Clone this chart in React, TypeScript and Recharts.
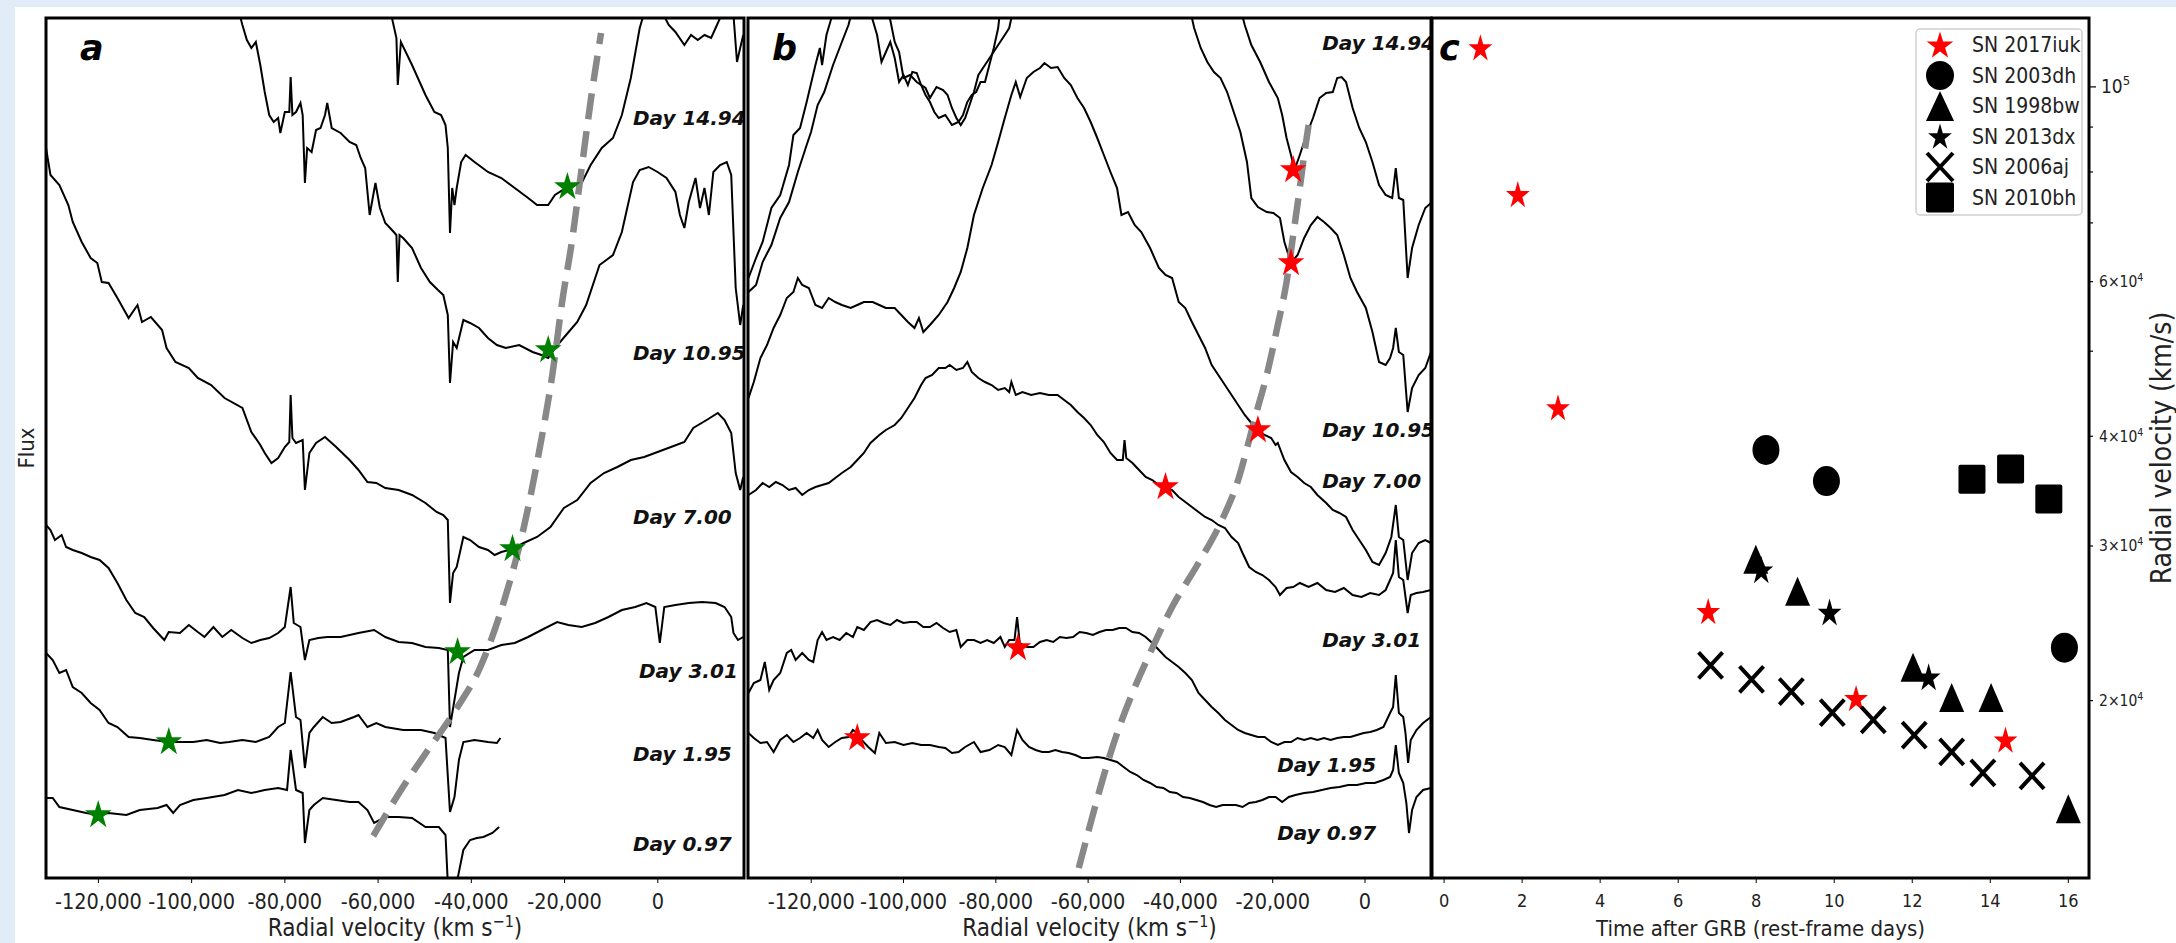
import React from 'react';
import { ComposedChart, Line, Scatter, XAxis, YAxis } from 'recharts';

type Pt = [number, number];

// ---------- panel a: spectra, [radial velocity km/s, offset flux] ----------
const aDay1494: Pt[] = [
  [-57510, 870], [-56070, 840], [-55780, 793], [-55110, 836], [-52720, 813], [-49840, 783], [-47930, 766],
  [-46490, 763], [-45540, 753], [-45050, 730], [-44580, 645], [-44100, 690], [-43620, 673], [-43140, 690],
  [-42180, 716], [-41230, 723], [-39310, 716], [-36440, 706], [-33560, 700], [-30690, 690], [-27820, 680],
  [-25900, 673], [-23510, 673], [-22070, 683], [-19680, 690], [-16330, 695], [-14410, 713], [-12020, 730],
  [-9620, 740], [-7710, 763], [-5790, 800], [-3880, 850], [-2440, 873], [-810, 883], [910, 866], [2340, 853],
  [3780, 846], [5700, 833], [7130, 843], [8570, 838], [10010, 843], [11440, 840], [12400, 850], [13360, 860],
  [14790, 870], [16230, 863], [16990, 816], [17670, 830], [18330, 843],
];
const aDay1095: Pt[] = [
  [-90060, 870], [-89110, 853], [-88150, 838], [-87190, 830], [-86230, 836], [-85270, 813], [-84320, 786],
  [-83360, 763], [-82400, 756], [-81440, 760], [-80970, 745], [-80010, 766], [-79050, 766], [-78760, 801],
  [-78380, 763], [-77610, 766], [-76650, 775], [-76180, 763], [-75700, 695], [-75220, 730], [-74260, 726],
  [-73310, 748], [-72350, 750], [-71390, 763], [-70910, 775], [-69950, 750], [-68040, 745], [-66120, 736],
  [-64690, 733], [-63730, 720], [-62770, 710], [-61810, 663], [-60570, 695], [-59610, 670], [-58460, 655],
  [-57030, 648], [-56070, 643], [-55780, 596], [-55400, 643], [-54630, 640], [-52720, 630], [-50800, 610],
  [-48890, 596], [-47160, 588], [-46010, 583], [-45050, 563], [-44580, 495], [-43910, 536], [-43140, 530],
  [-41710, 558], [-40270, 555], [-38350, 550], [-36440, 540], [-34520, 533], [-32610, 530], [-29730, 533],
  [-26860, 526], [-24950, 523], [-23510, 520], [-22070, 530], [-19680, 543], [-17280, 556], [-15370, 573],
  [-12500, 613], [-9620, 623], [-7710, 646], [-6750, 666], [-5310, 696], [-3880, 708], [-1960, 711], [-50, 706],
  [1860, 700], [3780, 686], [4740, 663], [5700, 650], [6650, 676], [8090, 700], [9050, 670], [10010, 690],
  [10960, 663], [11920, 706], [13360, 713], [14790, 716], [15750, 703], [16710, 590], [17670, 553], [18330, 573],
];
const aDay700: Pt[] = [
  [-131240, 730], [-130280, 703], [-128370, 693], [-126450, 673], [-125500, 656], [-123580, 636], [-121660, 620],
  [-120230, 615], [-119270, 596], [-117830, 595], [-115920, 580], [-113520, 560], [-111610, 573], [-110650, 556],
  [-108740, 561], [-106340, 548], [-105380, 530], [-103470, 516], [-100600, 510], [-98680, 500], [-95810, 493],
  [-92940, 480], [-89110, 470], [-87190, 446], [-85270, 433], [-84320, 425], [-82880, 415], [-81440, 420],
  [-80010, 431], [-79050, 436], [-78760, 483], [-78380, 440], [-77610, 435], [-76180, 438], [-75700, 388],
  [-74740, 425], [-73310, 435], [-71390, 441], [-69000, 431], [-66120, 418], [-64210, 408], [-62290, 396],
  [-60380, 395], [-58460, 390], [-55590, 388], [-52720, 383], [-49840, 375], [-47450, 366], [-46010, 363],
  [-45050, 358], [-44580, 275], [-43910, 305], [-43140, 311], [-41710, 341], [-40270, 338], [-38350, 331],
  [-36440, 328], [-35000, 323], [-33560, 326], [-31170, 329], [-28780, 335], [-25900, 341], [-23030, 351],
  [-20150, 370], [-17280, 378], [-14410, 395], [-11540, 405], [-8670, 411], [-5790, 418], [-2920, 421],
  [-50, 426], [2820, 431], [5700, 436], [7610, 450], [10480, 458], [12880, 465], [14320, 458], [15750, 445],
  [16710, 405], [17670, 388], [18330, 401],
];
const aDay301: Pt[] = [
  [-131240, 353], [-130280, 348], [-129320, 338], [-127890, 343], [-126930, 331], [-125500, 328], [-123580, 325],
  [-121660, 321], [-119750, 318], [-117830, 310], [-115920, 295], [-114000, 278], [-112090, 265], [-110170, 261],
  [-108260, 250], [-105860, 238], [-104910, 246], [-102510, 245], [-100600, 253], [-98680, 246], [-97240, 241],
  [-95330, 251], [-93420, 241], [-91500, 248], [-89110, 240], [-87190, 235], [-85270, 238], [-83360, 240],
  [-81440, 245], [-80010, 251], [-78760, 291], [-78090, 255], [-76650, 251], [-75700, 218], [-74740, 238],
  [-72830, 240], [-70910, 241], [-68040, 241], [-64210, 245], [-60860, 248], [-58460, 241], [-55590, 236],
  [-52720, 235], [-49840, 231], [-46970, 230], [-45050, 228], [-44580, 151], [-43620, 178], [-42660, 205],
  [-41710, 221], [-39310, 228], [-36440, 228], [-33560, 233], [-30690, 235], [-27820, 241], [-24950, 248],
  [-21590, 256], [-19200, 253], [-16330, 251], [-13450, 255], [-10580, 261], [-7710, 268], [-4840, 271],
  [-2440, 275], [-530, 271], [430, 235], [1390, 271], [3780, 273], [6650, 275], [9530, 276], [12400, 275],
  [14320, 271], [15750, 261], [16230, 245], [17190, 238], [18330, 241],
];
const aDay195: Pt[] = [
  [-131240, 225], [-129800, 218], [-128370, 205], [-126930, 208], [-125500, 191], [-123580, 185], [-121660, 175],
  [-119750, 168], [-117830, 155], [-115920, 151], [-113520, 141], [-111130, 140], [-108260, 138], [-104910, 136],
  [-102510, 136], [-99640, 136], [-96770, 138], [-93890, 135], [-91980, 136], [-89110, 138], [-86230, 136],
  [-83360, 141], [-81440, 151], [-80010, 155], [-78760, 206], [-77610, 161], [-76650, 158], [-75700, 110],
  [-74740, 145], [-73780, 151], [-71870, 161], [-69950, 155], [-68040, 156], [-65170, 161], [-64210, 163],
  [-62290, 151], [-60380, 155], [-58460, 151], [-54630, 148], [-50800, 148], [-47930, 145], [-45540, 140],
  [-44580, 66], [-43620, 81], [-42660, 118], [-41710, 136], [-39310, 138], [-36440, 136], [-34520, 135],
  [-33760, 140],
];
const aDay097: Pt[] = [
  [-131240, 80], [-129800, 80], [-128370, 71], [-125500, 68], [-122620, 65], [-120040, 63], [-117830, 65],
  [-114000, 63], [-111130, 68], [-107300, 70], [-105380, 73], [-103950, 65], [-102510, 73], [-99640, 78],
  [-96770, 80], [-92940, 83], [-90060, 88], [-87190, 85], [-84320, 88], [-81440, 90], [-79530, 88],
  [-78760, 128], [-77610, 88], [-76180, 85], [-75700, 35], [-74740, 68], [-73780, 73], [-71870, 80],
  [-69000, 78], [-66120, 76], [-64210, 76], [-62290, 68], [-60860, 55], [-58460, 61], [-55590, 61],
  [-52720, 60], [-49840, 51], [-46970, 51], [-45540, 43], [-45050, -5], [-43140, -5], [-41710, 28],
  [-40270, 38], [-38830, 40], [-37400, 41], [-35480, 45], [-34040, 51],
];
const aTrack: Pt[] = [
  [-61050, 42], [-54810, 90], [-49600, 126], [-43380, 168], [-38170, 210], [-32980, 277], [-28820, 349],
  [-25680, 421], [-22570, 505], [-20490, 577], [-18410, 637], [-16330, 710], [-14250, 782], [-12170, 845],
];
const aMinima: Pt[] = [[-19390, 691], [-23510, 528], [-31170, 329], [-42950, 226], [-104900, 136], [-120040, 63]];
const aLabelAt: Pt[] = [[-5330, 760], [-5330, 525], [-5330, 361], [-4040, 207], [-5330, 124], [-5330, 34]];

// ---------- panel b ----------
const bDay1494: Pt[] = [
  [-133590, 600], [-131960, 620], [-130530, 636], [-128630, 670], [-126720, 683], [-124810, 713], [-123860, 743],
  [-122420, 750], [-120990, 776], [-119090, 813], [-118130, 830], [-117650, 813], [-116700, 843], [-115750, 858],
  [-114790, 870], [-110500, 900], [-106680, 858], [-105730, 843], [-104770, 816], [-103820, 826], [-102870, 836],
  [-101910, 820], [-100960, 796], [-100000, 803], [-99050, 793], [-98090, 806], [-97140, 805], [-96190, 793],
  [-95230, 783], [-94280, 776], [-93330, 766], [-92370, 760], [-90940, 763], [-89510, 753], [-88080, 756],
  [-87120, 763], [-86170, 776], [-85210, 783], [-84260, 786], [-83310, 796], [-82350, 796], [-81400, 813],
  [-80440, 830], [-79490, 850], [-79010, 870], [-53000, 950], [-27010, 870], [-26060, 853], [-24630, 833],
  [-22720, 816], [-20810, 796], [-18900, 780], [-17950, 763], [-17000, 740], [-16040, 723], [-15280, 708],
  [-14130, 723], [-12700, 743], [-11270, 760], [-9840, 780], [-8410, 785], [-6980, 786], [-6020, 800],
  [-5070, 801], [-4110, 796], [-2680, 770], [-1250, 750], [180, 736], [1610, 716], [3040, 693], [4470, 683],
  [5900, 680], [6670, 710], [7340, 680], [8290, 678], [9240, 600], [10200, 630], [11630, 653], [13060, 670],
  [14300, 675],
];
const bDay1095: Pt[] = [
  [-133590, 586], [-131960, 593], [-130530, 616], [-128630, 633], [-126720, 660], [-124810, 676], [-122900, 706],
  [-120990, 733], [-120040, 746], [-118610, 773], [-117180, 786], [-115270, 813], [-113360, 836], [-111930, 853],
  [-110970, 870], [-106680, 900], [-102870, 858], [-101910, 836], [-100960, 826], [-100000, 800], [-98570, 803],
  [-97140, 796], [-95230, 790], [-94280, 780], [-92850, 791], [-91420, 788], [-90460, 783], [-89510, 770],
  [-88550, 760], [-87600, 753], [-86650, 760], [-85690, 773], [-84740, 786], [-83780, 803], [-82350, 813],
  [-80920, 823], [-79490, 833], [-78060, 843], [-77100, 850], [-76150, 870], [-58000, 950], [-37990, 870],
  [-37030, 850], [-35600, 830], [-34170, 816], [-32740, 806], [-31310, 800], [-29880, 786], [-28450, 766],
  [-27010, 746], [-25580, 716], [-24630, 680], [-23200, 671], [-21290, 666], [-19860, 665], [-18430, 660],
  [-17470, 636], [-16040, 615], [-14610, 623], [-13180, 640], [-11740, 653], [-10320, 661], [-8880, 656],
  [-7450, 650], [-6020, 643], [-4590, 623], [-3160, 600], [-1730, 586], [180, 570], [1610, 546], [3040, 516],
  [4470, 513], [5430, 520], [6090, 530], [6670, 550], [7340, 526], [8290, 523], [9240, 466], [10200, 490],
  [11630, 503], [13060, 510], [14300, 526],
];
const bDay700: Pt[] = [
  [-133590, 480], [-132440, 496], [-131010, 520], [-129580, 533], [-128150, 550], [-126720, 563], [-125290, 580],
  [-123860, 586], [-122900, 600], [-121950, 593], [-120520, 590], [-119090, 573], [-117650, 570], [-116220, 580],
  [-114790, 576], [-113360, 573], [-111450, 570], [-110020, 573], [-108590, 576], [-106680, 576], [-105250, 573],
  [-103820, 570], [-101910, 570], [-100480, 563], [-99050, 556], [-97620, 550], [-96660, 560], [-95710, 546],
  [-94280, 553], [-92370, 563], [-90460, 576], [-89030, 590], [-87600, 606], [-86170, 630], [-84740, 663],
  [-82830, 690], [-80920, 713], [-79490, 736], [-78060, 760], [-76630, 783], [-75680, 796], [-74720, 781],
  [-73290, 800], [-71860, 806], [-70430, 810], [-69470, 815], [-68040, 810], [-66610, 811], [-65180, 800],
  [-63750, 793], [-62320, 780], [-60880, 770], [-59450, 756], [-58020, 740], [-56590, 723], [-55160, 706],
  [-53730, 690], [-52780, 663], [-51350, 666], [-49920, 653], [-48480, 646], [-46570, 630], [-44660, 610],
  [-43230, 603], [-41800, 600], [-40370, 576], [-38940, 570], [-37510, 556], [-36080, 543], [-34650, 530],
  [-33220, 513], [-31790, 503], [-30350, 493], [-28920, 483], [-27490, 473], [-26060, 463], [-24630, 455],
  [-23200, 448], [-21760, 443], [-20330, 440], [-19380, 433], [-18900, 435], [-17470, 418], [-16040, 406],
  [-14610, 401], [-13180, 395], [-11740, 391], [-10320, 383], [-8410, 375], [-6980, 368], [-5540, 365],
  [-4110, 361], [-2680, 348], [-1250, 338], [180, 328], [1610, 316], [3040, 313], [4470, 325], [5710, 341],
  [6670, 373], [7340, 341], [8290, 338], [9240, 298], [10200, 325], [11630, 335], [13060, 338], [14300, 335],
];
const bDay301: Pt[] = [
  [-133590, 383], [-131960, 388], [-130530, 395], [-129100, 391], [-127670, 396], [-126240, 393], [-124810, 388],
  [-123380, 390], [-121950, 383], [-120520, 388], [-119090, 391], [-117650, 393], [-116220, 395], [-114790, 400],
  [-113360, 405], [-111450, 411], [-110020, 418], [-108590, 425], [-107160, 435], [-105250, 443], [-103820, 448],
  [-101910, 453], [-100480, 460], [-99050, 470], [-97620, 480], [-96190, 493], [-95230, 500], [-93800, 503],
  [-92370, 510], [-90940, 510], [-89990, 513], [-88550, 508], [-87120, 510], [-86170, 516], [-85210, 506],
  [-83780, 500], [-82350, 496], [-80920, 493], [-79490, 488], [-78060, 490], [-77100, 486], [-76630, 496],
  [-75680, 483], [-74240, 486], [-72330, 483], [-70430, 485], [-68520, 483], [-66610, 483], [-65180, 478],
  [-63750, 473], [-62320, 466], [-60880, 460], [-59450, 453], [-58020, 443], [-56590, 436], [-55160, 425],
  [-53730, 418], [-52490, 418], [-52110, 438], [-51730, 420], [-50390, 415], [-48960, 408], [-47530, 401],
  [-46100, 398], [-44660, 393], [-43230, 391], [-41800, 388], [-40370, 381], [-38940, 376], [-37510, 371],
  [-36080, 366], [-34650, 361], [-33220, 358], [-31790, 353], [-30350, 350], [-28920, 341], [-27490, 335],
  [-26540, 325], [-25100, 311], [-23670, 306], [-22240, 303], [-20810, 298], [-19380, 291], [-18430, 283],
  [-17000, 290], [-15560, 291], [-14130, 295], [-12220, 291], [-10320, 295], [-8410, 288], [-6500, 286],
  [-4590, 290], [-2680, 283], [-780, 281], [1130, 285], [3040, 283], [4470, 288], [5430, 298], [6090, 305],
  [6670, 338], [7340, 301], [8290, 298], [9240, 265], [9910, 283], [11150, 285], [12580, 286], [14300, 288],
];
const bDay195: Pt[] = [
  [-133590, 185], [-132440, 195], [-131010, 198], [-130060, 216], [-129100, 188], [-128150, 198], [-126720, 205],
  [-125290, 225], [-124330, 228], [-123380, 218], [-121950, 225], [-120520, 218], [-119560, 216], [-118610, 238],
  [-117650, 246], [-116700, 238], [-115270, 241], [-113840, 238], [-112400, 245], [-110970, 241], [-110020, 251],
  [-108590, 248], [-107160, 256], [-105730, 258], [-104300, 255], [-102870, 253], [-101440, 258], [-100000, 255],
  [-98570, 256], [-97140, 256], [-95710, 251], [-94280, 251], [-92850, 255], [-91420, 250], [-89990, 246],
  [-88550, 248], [-87600, 231], [-86170, 238], [-84740, 238], [-83310, 235], [-81880, 238], [-80440, 235],
  [-79010, 241], [-78060, 231], [-77100, 238], [-75960, 238], [-75390, 261], [-74810, 235], [-73290, 231],
  [-71860, 231], [-70430, 236], [-69000, 238], [-67560, 236], [-66130, 241], [-64700, 240], [-63270, 241],
  [-61840, 246], [-60410, 245], [-58980, 243], [-57540, 246], [-56110, 248], [-54680, 248], [-53250, 250],
  [-51820, 250], [-50390, 246], [-48960, 245], [-47530, 241], [-46100, 235], [-44660, 228], [-43230, 221],
  [-41800, 216], [-40370, 211], [-38940, 205], [-37510, 198], [-36080, 185], [-34650, 178], [-33220, 171],
  [-31790, 165], [-30350, 158], [-28920, 153], [-27490, 148], [-26060, 145], [-24630, 143], [-23200, 141],
  [-21760, 141], [-20330, 136], [-18900, 133], [-17470, 136], [-16040, 136], [-14610, 140], [-13180, 138],
  [-11740, 140], [-10320, 138], [-8880, 140], [-7450, 138], [-6020, 140], [-4590, 141], [-3160, 141],
  [-1730, 143], [-300, 145], [1130, 146], [2560, 148], [4000, 151], [5430, 165], [6090, 171], [6670, 203],
  [7340, 165], [8290, 161], [8770, 145], [9340, 115], [9910, 138], [11150, 148], [12580, 155], [14300, 161],
];
const bDay097: Pt[] = [
  [-133590, 145], [-132440, 140], [-131010, 135], [-129580, 136], [-128150, 126], [-126720, 138], [-125290, 143],
  [-123860, 136], [-122420, 140], [-120990, 145], [-119560, 140], [-118610, 148], [-117650, 138], [-116220, 131],
  [-114790, 136], [-113360, 140], [-111930, 141], [-110970, 148], [-110020, 145], [-109070, 138], [-107640, 131],
  [-106210, 125], [-105250, 145], [-103820, 135], [-101910, 136], [-100000, 133], [-98090, 135], [-96190, 133],
  [-94280, 133], [-92370, 131], [-90940, 130], [-89510, 125], [-88080, 126], [-86650, 131], [-84740, 136],
  [-83310, 126], [-81400, 128], [-79490, 133], [-78060, 131], [-76630, 123], [-75390, 148], [-74240, 138],
  [-72810, 131], [-71380, 128], [-69950, 126], [-68520, 126], [-67090, 128], [-65650, 126], [-64220, 125],
  [-62790, 123], [-61360, 120], [-59930, 120], [-58020, 121], [-56590, 120], [-55160, 118], [-53730, 116],
  [-52300, 111], [-50870, 106], [-49440, 103], [-48000, 98], [-46570, 95], [-45140, 91], [-43710, 90],
  [-42280, 86], [-40850, 85], [-39420, 81], [-37990, 80], [-36560, 78], [-35130, 76], [-33690, 73],
  [-32260, 71], [-30830, 73], [-29400, 73], [-27970, 73], [-26540, 71], [-25100, 75], [-23670, 76],
  [-22240, 78], [-20810, 81], [-19380, 81], [-17950, 76], [-16520, 81], [-15090, 83], [-13180, 85],
  [-11270, 86], [-9360, 88], [-7450, 90], [-5540, 91], [-3640, 93], [-1730, 93], [180, 95], [2090, 95],
  [4000, 98], [5430, 101], [6090, 108], [6670, 133], [7340, 105], [8290, 95], [8960, 75], [9530, 45],
  [10200, 68], [11150, 81], [12580, 88], [14300, 90],
];
const bTrack: Pt[] = [
  [-62030, 10], [-59450, 55], [-57070, 95], [-54210, 138], [-50390, 185], [-46570, 225], [-41800, 271],
  [-36080, 315], [-31310, 355], [-27490, 398], [-25100, 438], [-23670, 463], [-21290, 503], [-18900, 553],
  [-17000, 596], [-15560, 643], [-14130, 690], [-13180, 723], [-12220, 753],
];
const bMinima: Pt[] = [[-15560, 708], [-16040, 615], [-23200, 448], [-43230, 391], [-75200, 230], [-110020, 140]];
const bLabelAt: Pt[] = [[-9270, 835], [-9270, 448], [-9270, 397], [-9270, 238], [-19020, 113], [-19020, 45]];

const dayNames = ['Day 14.94', 'Day 10.95', 'Day 7.00', 'Day 3.01', 'Day 1.95', 'Day 0.97'];

// ---------- panel c: [days after GRB, velocity km/s] ----------
const sn2017iuk: Pt[] = [[0.93, 110500], [1.89, 75200], [2.92, 43000], [6.77, 25200], [10.56, 20060], [14.39, 17990]];
const sn2003dh: Pt[] = [[8.25, 38600], [9.8, 35570], [15.9, 22980]];
const sn1998bw: Pt[] = [[7.99, 28970], [9.06, 26650], [12.02, 21830], [13.01, 20160], [14.02, 20160], [16.0, 15060]];
const sn2013dx: Pt[] = [[8.13, 28090], [9.88, 25140], [12.42, 21210]];
const sn2006aj: Pt[] = [
  [6.83, 21930], [7.88, 21140], [8.9, 20480], [9.95, 19380], [11.0, 19010], [12.05, 18270], [13.01, 17480],
  [13.81, 16550], [15.07, 16420],
];
const sn2010bh: Pt[] = [[13.53, 35730], [14.52, 36710], [15.5, 33940]];

const velTicks = [-120000, -100000, -80000, -60000, -40000, -20000, 0];
const dayTicks = [0, 2, 4, 6, 8, 10, 12, 14, 16];
const speedTicks = [20000, 30000, 40000, 50000, 60000, 70000, 80000, 90000, 100000];

const FONT = "'DejaVu Sans Condensed', 'DejaVu Sans'";
const BOLD_FONT = 'DejaVu Sans';
const INK = '#222';

const toVF = (pts: Pt[]) => pts.map(([v, f]) => ({ v, f }));
const toTV = (pts: Pt[]) => pts.map(([t, v]) => ({ t, v }));
const named = (pts: Pt[]) => pts.map(([v, f], i) => ({ v, f, name: dayNames[i] }));

function starPath(cx: number, cy: number, rx: number, ry: number) {
  let d = '';
  for (let i = 0; i < 10; i++) {
    const a = -Math.PI / 2 + (i * Math.PI) / 5;
    const k = i % 2 === 0 ? 1 : 0.382;
    d += (i ? 'L' : 'M') + (cx + Math.cos(a) * rx * k).toFixed(2) + ',' + (cy + Math.sin(a) * ry * k).toFixed(2);
  }
  return d + 'Z';
}

const starShape = (color: string, rx: number, ry: number) => (p: any) =>
  p.cx == null ? <g /> : <path d={starPath(p.cx, p.cy, rx, ry)} fill={color} />;
const circleShape = (p: any) => <ellipse cx={p.cx} cy={p.cy} rx={13.5} ry={15} fill="#000" />;
const triangleShape = (p: any) => (
  <path d={`M${p.cx},${p.cy - 14.5}L${p.cx + 12.5},${p.cy + 14.5}L${p.cx - 12.5},${p.cy + 14.5}Z`} fill="#000" />
);
const squareShape = (p: any) => <rect x={p.cx - 13.5} y={p.cy - 14.5} width={27} height={29} rx={2} fill="#000" />;
const crossShape = (p: any) => (
  <path
    d={`M${p.cx - 12},${p.cy - 13}L${p.cx + 12},${p.cy + 13}M${p.cx - 12},${p.cy + 13}L${p.cx + 12},${p.cy - 13}`}
    stroke="#000" strokeWidth={4} fill="none"
  />
);

const DayLabel = (p: any) => (
  <text x={p.cx} y={p.cy} dominantBaseline="central" fontFamily={BOLD_FONT} fontSize={20} fontWeight="bold"
    fontStyle="italic" fill="#111">
    {p.payload?.name}
  </text>
);

const VelTitle = (p: any) => {
  const vb = p.viewBox || { x: 0, y: 0, width: 0 };
  return (
    <text x={vb.x + vb.width / 2} y={vb.y + 58} textAnchor="middle" fontFamily={FONT} fontSize={24} fill={INK}>
      Radial velocity (km s<tspan dy={-9} fontSize={16}>−1</tspan>
      <tspan dy={9}>)</tspan>
    </text>
  );
};

const TimeTitle = (p: any) => {
  const vb = p.viewBox || { x: 0, y: 0, width: 0 };
  return (
    <text x={vb.x + vb.width / 2} y={vb.y + 58} textAnchor="middle" fontFamily={FONT} fontSize={22} fill={INK}>
      Time after GRB (rest-frame days)
    </text>
  );
};

const FluxTitle = (p: any) => {
  const vb = p.viewBox || { x: 0, y: 0, height: 0 };
  const cx = vb.x + 26;
  const cy = vb.y + vb.height / 2;
  return (
    <text x={cx} y={cy} transform={`rotate(-90 ${cx} ${cy})`} textAnchor="middle" dominantBaseline="central"
      fontFamily={FONT} fontSize={22} fill={INK}>
      Flux
    </text>
  );
};

const SpeedTitle = (p: any) => {
  const vb = p.viewBox || { x: 0, y: 0, height: 0 };
  const cx = vb.x + 72;
  const cy = vb.y + vb.height / 2;
  return (
    <text x={cx} y={cy} transform={`rotate(-90 ${cx} ${cy})`} textAnchor="middle" dominantBaseline="central"
      fontFamily={FONT} fontSize={28} fill={INK}>
      Radial velocity (km/s)
    </text>
  );
};

const SpeedTick = (p: any) => {
  const { x, y, payload } = p;
  const v = payload.value;
  const major = v === 100000;
  const m = v / 10000;
  const labelled = [2, 3, 4, 6].includes(m);
  return (
    <g>
      <line x1={x} y1={y} x2={x + (major ? 7 : 4)} y2={y} stroke="#000" strokeWidth={1.2} />
      {major && (
        <text x={x + 12} y={y + 6} fontFamily={FONT} fontSize={19} fill={INK}>
          10<tspan dy={-8} fontSize={13}>5</tspan>
        </text>
      )}
      {!major && labelled && (
        <text x={x + 10} y={y + 5.5} fontFamily={FONT} fontSize={15.5} fill={INK}>
          {m}×10<tspan dy={-6} fontSize={10.5}>4</tspan>
        </text>
      )}
    </g>
  );
};

interface PanelProps {
  left: number;
  width: number;
  margin: { top: number; right: number; bottom: number; left: number };
  domain: [number, number];
  spectra: Pt[][];
  track: Pt[];
  minima: Pt[];
  starColor: string;
  labels: Pt[];
  withFlux: boolean;
}

const SpectraPanel: React.FC<PanelProps> = ({ left, width, margin, domain, spectra, track, minima, starColor, labels, withFlux }) => (
  <div style={{ position: 'absolute', left, top: 0 }}>
    <ComposedChart width={width} height={943} margin={margin}>
      <XAxis type="number" dataKey="v" domain={domain} allowDataOverflow ticks={velTicks} interval={0}
        tickFormatter={(v: number) => v.toLocaleString('en-US')} height={60} tickSize={5} tickMargin={11}
        axisLine={false} tickLine={{ stroke: '#000' }} tick={{ fontSize: 21.5, fill: INK, fontFamily: FONT }}
        label={<VelTitle />} />
      <YAxis type="number" dataKey="f" domain={[0, 860]} allowDataOverflow width={withFlux ? 46 : 0} hide={!withFlux}
        tick={false} axisLine={false} tickLine={false} label={withFlux ? <FluxTitle /> : undefined} />
      <Scatter data={toVF(minima)} dataKey="f" shape={starShape(starColor, 14, 15)} isAnimationActive={false} />
      {spectra.map((s, i) => (
        <Line key={i} data={toVF(s)} dataKey="f" type="linear" stroke="#000" strokeWidth={2} dot={false}
          activeDot={false} isAnimationActive={false} />
      ))}
      <Line data={toVF(track)} dataKey="f" type="monotone" stroke="#888" strokeWidth={6.5} strokeDasharray="26 12"
        dot={false} activeDot={false} isAnimationActive={false} />
      <Scatter data={named(labels)} dataKey="f" shape={DayLabel} isAnimationActive={false} />
    </ComposedChart>
  </div>
);

const legendRows = [
  { name: 'SN 2017iuk', kind: 'redstar' },
  { name: 'SN 2003dh', kind: 'circle' },
  { name: 'SN 1998bw', kind: 'triangle' },
  { name: 'SN 2013dx', kind: 'star' },
  { name: 'SN 2006aj', kind: 'cross' },
  { name: 'SN 2010bh', kind: 'square' },
];

function legendMarker(kind: string, cx: number, cy: number) {
  switch (kind) {
    case 'redstar':
      return <path d={starPath(cx, cy + 1, 14, 14.5)} fill="#ff0000" />;
    case 'circle':
      return <ellipse cx={cx} cy={cy} rx={14} ry={14.5} fill="#000" />;
    case 'triangle':
      return <path d={`M${cx},${cy - 15}L${cx + 14},${cy + 15}L${cx - 14},${cy + 15}Z`} fill="#000" />;
    case 'star':
      return <path d={starPath(cx, cy + 1, 12.5, 14)} fill="#000" />;
    case 'cross':
      return <path d={`M${cx - 13},${cy - 14}L${cx + 13},${cy + 14}M${cx - 13},${cy + 14}L${cx + 13},${cy - 14}`} stroke="#000" strokeWidth={4} />;
    default:
      return <rect x={cx - 14} y={cy - 15} width={28} height={30} rx={2} fill="#000" />;
  }
}

export default function App() {
  return (
    <div style={{ position: 'absolute', left: 0, top: 0, width: 2176, height: 943, background: '#e2ecf8', overflow: 'hidden' }}>
      <div style={{ position: 'absolute', left: 15, top: 7, right: 0, bottom: 0, background: '#fff' }} />

      <SpectraPanel left={0} width={760} margin={{ top: 18, right: 16, bottom: 5, left: 0 }} domain={[-131240, 18490]}
        spectra={[aDay1494, aDay1095, aDay700, aDay301, aDay195, aDay097]} track={aTrack} minima={aMinima}
        starColor="#008000" labels={aLabelAt} withFlux />
      <SpectraPanel left={740} width={700} margin={{ top: 18, right: 9, bottom: 5, left: 8 }} domain={[-133700, 14300]}
        spectra={[bDay1494, bDay1095, bDay700, bDay301, bDay195, bDay097]} track={bTrack} minima={bMinima}
        starColor="#ff0000" labels={bLabelAt} withFlux={false} />

      <div style={{ position: 'absolute', left: 1420, top: 0 }}>
        <ComposedChart width={756} height={943} margin={{ top: 18, right: 7, bottom: 5, left: 12 }}>
          <XAxis type="number" dataKey="t" domain={[-0.31, 16.53]} allowDataOverflow ticks={dayTicks} interval={0}
            height={60} tickSize={5} tickMargin={11} axisLine={false} tickLine={{ stroke: '#000' }}
            tick={{ fontSize: 18, fill: INK, fontFamily: FONT }} label={<TimeTitle />} />
          <YAxis type="number" dataKey="v" orientation="right" scale="log" domain={[12560, 119800]} allowDataOverflow
            ticks={speedTicks} interval={0} width={80} tickSize={0} tickMargin={0} axisLine={false} tickLine={false}
            tick={(p: any) => <SpeedTick {...p} />} label={<SpeedTitle />} />
          <Scatter data={toTV(sn2017iuk)} dataKey="v" shape={starShape('#ff0000', 12.5, 14.5)} isAnimationActive={false} />
          <Scatter data={toTV(sn2003dh)} dataKey="v" shape={circleShape} isAnimationActive={false} />
          <Scatter data={toTV(sn1998bw)} dataKey="v" shape={triangleShape} isAnimationActive={false} />
          <Scatter data={toTV(sn2013dx)} dataKey="v" shape={starShape('#000', 12.5, 15)} isAnimationActive={false} />
          <Scatter data={toTV(sn2006aj)} dataKey="v" shape={crossShape} isAnimationActive={false} />
          <Scatter data={toTV(sn2010bh)} dataKey="v" shape={squareShape} isAnimationActive={false} />
        </ComposedChart>
      </div>

      <svg width={2176} height={943} style={{ position: 'absolute', left: 0, top: 0, pointerEvents: 'none' }}>
        <g fill="none" stroke="#000" strokeWidth={3}>
          <rect x={46} y={18} width={698} height={860} />
          <rect x={748} y={18} width={683} height={860} />
          <rect x={1432} y={18} width={657} height={860} />
        </g>
        <g fontFamily={BOLD_FONT} fontSize={35} fontWeight="bold" fontStyle="italic" fill="#000">
          <text x={80} y={60}>a</text>
          <text x={772} y={60}>b</text>
          <text x={1439} y={60}>c</text>
        </g>
        <rect x={1916} y={29} width={166} height={186} rx={4} fill="#fff" stroke="#d0d0d0" strokeWidth={1.5} />
        {legendRows.map((r, i) => {
          const cy = 45 + i * 30.5;
          return (
            <g key={r.name}>
              {legendMarker(r.kind, 1940, cy)}
              <text x={1972} y={cy} dominantBaseline="central" fontFamily={FONT} fontSize={21} fill={INK}>
                {r.name}
              </text>
            </g>
          );
        })}
      </svg>
    </div>
  );
}
